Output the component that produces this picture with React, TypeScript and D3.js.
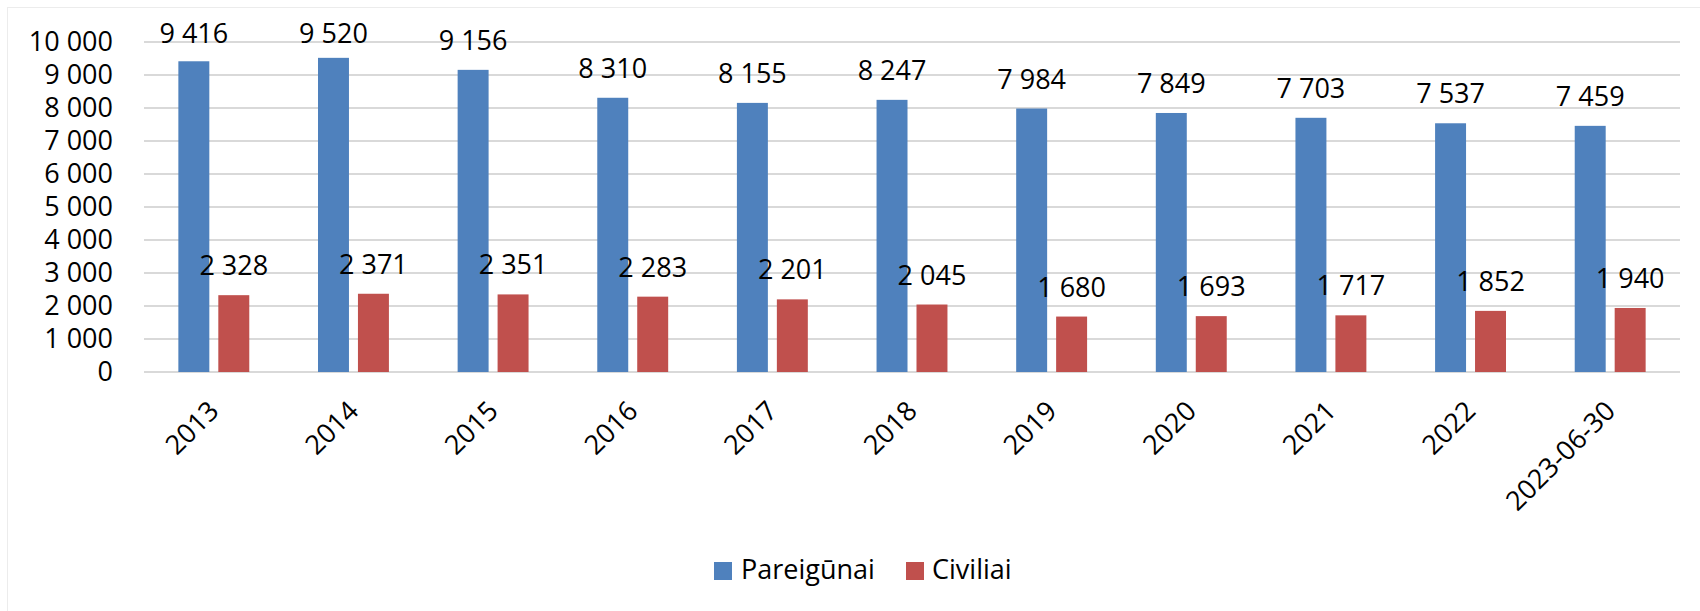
import React from "react";
import * as d3 from "d3";

const categories = ["2013", "2014", "2015", "2016", "2017", "2018", "2019", "2020", "2021", "2022", "2023-06-30"];
const seriesNames = ["Pareigūnai", "Civiliai"];
const pareigunai = [9416, 9520, 9156, 8310, 8155, 8247, 7984, 7849, 7703, 7537, 7459];
const civiliai = [2328, 2371, 2351, 2283, 2201, 2045, 1680, 1693, 1717, 1852, 1940];
const yTicks = [0, 1000, 2000, 3000, 4000, 5000, 6000, 7000, 8000, 9000, 10000];
const colors = ["#4f81bd", "#c0504d"];

const width = 1700;
const height = 611;
const margin = { top: 42, right: 20, bottom: 239, left: 144 };
const font = "'Open Sans', sans-serif";
const fontSize = 27;

const locale = d3.formatLocale({ decimal: ",", thousands: " ", grouping: [3], currency: ["", ""] });
const fmt = locale.format(",d");

export default function App() {
  const x0 = d3.scaleBand<string>()
    .domain(categories)
    .range([margin.left, width - margin.right]);
  const x1 = d3.scaleBand<string>()
    .domain(seriesNames)
    .range([0, x0.bandwidth()])
    .paddingInner(0.225)
    .paddingOuter(0.86);
  const y = d3.scaleLinear()
    .domain([0, 10000])
    .range([height - margin.bottom, margin.top]);

  const data = [pareigunai, civiliai];

  return (
    <svg width={width} height={height} style={{ display: "block" }}>
      <style>{`body{margin:0}`}</style>
      <rect x={7.5} y={7.5} width={width} height={height} fill="#fff" stroke="#ececec" />
      {yTicks.map(t => (
        <g key={t}>
          <line x1={margin.left} x2={width - margin.right} y1={y(t)} y2={y(t)} stroke="#d9d9d9" strokeWidth={2} />
          <text x={113} y={y(t)} dy="0.35em" textAnchor="end" fontFamily={font} fontSize={fontSize} fill="#000">
            {fmt(t)}
          </text>
        </g>
      ))}
      {categories.map((c, i) => (
        <g key={c} transform={`translate(${x0(c)},0)`}>
          {seriesNames.map((s, j) => {
            const v = data[j][i];
            const bx = x1(s)!;
            return (
              <g key={s}>
                <rect x={bx} y={y(v)} width={x1.bandwidth()} height={y(0) - y(v)} fill={colors[j]} />
                <text x={bx + x1.bandwidth() / 2} y={Math.max(y(v) - 20, 43)} textAnchor="middle"
                  fontFamily={font} fontSize={fontSize} fill="#000">
                  {fmt(v)}
                </text>
              </g>
            );
          })}
          <text transform={`translate(${x0.bandwidth() / 2},406) rotate(-45)`} dy="0.35em" textAnchor="end"
            fontFamily={font} fontSize={fontSize} fill="#000">
            {c}
          </text>
        </g>
      ))}
      <g fontFamily={font} fontSize={fontSize}>
        <rect x={714} y={562} width={18} height={18} fill={colors[0]} />
        <text x={741} y={579}>{seriesNames[0]}</text>
        <rect x={906} y={562} width={18} height={18} fill={colors[1]} />
        <text x={932} y={579}>{seriesNames[1]}</text>
      </g>
    </svg>
  );
}
